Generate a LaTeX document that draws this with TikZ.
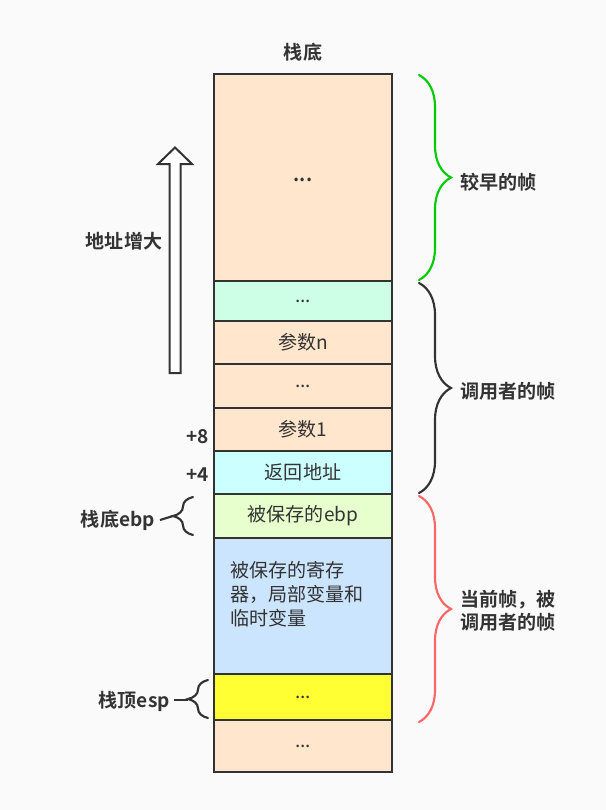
\documentclass[tikz,border=0pt]{standalone}
\usepackage{fontspec}
\setmainfont{Noto Sans CJK SC}[BoldFont={Noto Sans CJK SC Bold}]
\usetikzlibrary{positioning,calc,decorations.pathreplacing}
\definecolor{peach}{HTML}{FFE6CC}
\definecolor{mint}{HTML}{CCFFE6}
\definecolor{aqua}{HTML}{CCFFFF}
\definecolor{lime}{HTML}{E6FFCC}
\definecolor{sky}{HTML}{CCE5FF}
\definecolor{lemon}{HTML}{FFFF33}
\definecolor{ink}{HTML}{333333}
\definecolor{grn}{HTML}{00CC00}
\definecolor{rd}{HTML}{FF6666}
\definecolor{bg}{HTML}{FAFAFA}

\begin{document}
\begin{tikzpicture}[x=0.75pt,y=-0.75pt,
    cell/.style={draw=ink,line width=1.5pt,minimum width=133.5pt,
      outer sep=0pt,inner sep=0pt,text=ink,font=\fontsize{14.3}{17}\selectfont},
    h/.style={minimum height=#1*0.75pt},
    lbl/.style={text=ink,inner sep=0pt,font=\fontsize{14.3}{17.25}\selectfont\bfseries},
    brc/.style={decorate,line width=1.6pt,line cap=round}]
  \fill[bg] (0,0) rectangle (606,810);
  \useasboundingbox (0,0) rectangle (606,810);

  % the stack
  \node[cell,fill=peach,h=207,anchor=north] (c0) at (303,74) {\raisebox{-5.5pt}{\textbf{...}}};
  \node[cell,fill=mint,h=40,below=0pt of c0] (c1) {...};
  \node[cell,fill=peach,h=43,below=0pt of c1] (c2) {参数n};
  \node[cell,fill=peach,h=44,below=0pt of c2] (c3) {...};
  \node[cell,fill=peach,h=43,below=0pt of c3] (c4) {参数1};
  \node[cell,fill=aqua,h=43,below=0pt of c4] (c5) {返回地址};
  \node[cell,fill=lime,h=44,below=0pt of c5] (c6) {被保存的ebp};
  \node[cell,fill=sky,h=136,below=0pt of c6] (c7) {};
  \node[cell,fill=lemon,h=46,below=0pt of c7] (c8) {...};
  \node[cell,fill=peach,h=52,below=0pt of c8] (c9) {...};
  \node[text=ink,inner sep=0pt,anchor=north west,align=left,
    font=\fontsize{14.3}{18}\selectfont] (regs) at ($(c7.north west)+(16,23)$)
    {被保存的寄存\\器，局部变量和\\临时变量};
  \node[lbl,above=9pt of c0] (bottom) {栈底};

  % frames
  \draw[brc,draw=grn,decoration={brace,amplitude=24pt}]
    ($(c0.north east)+(27,1)$) -- ($(c1.north east)+(27,-1)$);
  \draw[brc,draw=ink,decoration={brace,amplitude=24pt}]
    ($(c1.north east)+(27,2)$) -- ($(c6.north east)+(27,-1)$);
  \draw[brc,draw=rd,decoration={brace,amplitude=24pt}]
    ($(c6.north east)+(27,2)$) -- ($(c9.north east)+(27,2)$);
  \node[lbl,anchor=west] (early) at ($(c0.north east)!0.5!(c1.north east)+(68,5)$) {较早的帧};
  \node[lbl,anchor=west] (caller) at ($(c1.north east)!0.5!(c6.north east)+(68,4)$) {调用者的帧};
  \node[lbl,anchor=west,align=left] (cur) at ($(c6.north east)!0.5!(c9.north east)+(68,4)$)
    {当前帧，被\\调用者的帧};

  % offsets
  \node[lbl,anchor=east] (p8) at (209,437) {+8};
  \node[lbl,anchor=east] (p4) at (209,475) {+4};

  % ebp / esp
  \coordinate (ebptip) at ($(c6.west)+(-41,0)$);
  \coordinate (esptip) at ($(c8.west)+(-26,3)$);
  \node[lbl,anchor=east] (ebp) at (155,520) {栈底ebp};
  \node[lbl,anchor=east] (esp) at (170,701) {栈顶esp};
  \draw[brc,draw=ink,decoration={brace,amplitude=15pt}]
    ($(c6.south west)+(-21,-3)$) -- ($(c6.north west)+(-21,3)$);
  \draw[brc,draw=ink,decoration={brace,amplitude=15pt}]
    ($(c8.south west)+(-6,-2)$) -- ($(c8.north west)+(-6,6)$);
  \draw[line width=1.6pt,draw=ink] ($(ebp.east)+(5,0)$) -- (ebptip);
  \draw[line width=1.6pt,draw=ink] ($(esp.east)+(4,-1)$) -- (esptip);

  % address grows upward
  \draw[line width=1.5pt,draw=ink,fill=white,line join=miter]
    (169.5,373) -- (169.5,164) -- (158,164) -- (175,147.5) -- (192,164)
    -- (180.5,164) -- (180.5,373) -- cycle;
  \node[lbl] (grow) at (124,241) {地址增大};
\end{tikzpicture}
\end{document}
